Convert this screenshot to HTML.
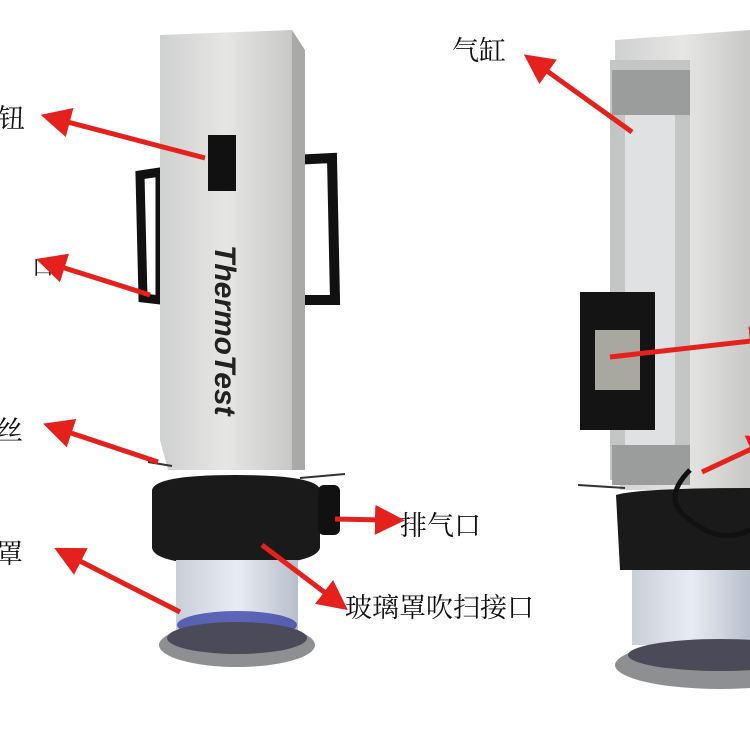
<!DOCTYPE html>
<html><head><meta charset="utf-8"><style>
html,body{margin:0;padding:0;background:#fff;}
svg{display:block}
text{font-family:"Liberation Serif","Noto Serif CJK SC","Noto Sans CJK SC",serif;font-size:27px;fill:#111}
</style></head><body>
<svg width="750" height="750" viewBox="0 0 750 750" xmlns="http://www.w3.org/2000/svg">
<defs>
<marker id="ah" markerWidth="6" markerHeight="6" refX="2" refY="3" orient="auto" markerUnits="strokeWidth">
<path d="M0,0 L6,3 L0,6 z" fill="#e5211e"/></marker>
<linearGradient id="body" x1="0" x2="1"><stop offset="0" stop-color="#cfd0d0"/><stop offset="0.5" stop-color="#e6e6e4"/><stop offset="1" stop-color="#c8c8c6"/></linearGradient>
<linearGradient id="glass" x1="0" x2="1"><stop offset="0" stop-color="#c9cfd8"/><stop offset="0.5" stop-color="#e8ecf2"/><stop offset="1" stop-color="#b8bfcc"/></linearGradient>
</defs>
<rect width="750" height="750" fill="#fff"/>
<!-- LEFT DEVICE -->
<path d="M140,175 L160,172 L160,300 L143,298 Z" fill="none" stroke="#111" stroke-width="9"/>
<path d="M292,160 L332,158 L335,300 L292,300" fill="none" stroke="#111" stroke-width="10"/>
<polygon points="292,30 305,50 305,470 292,470" fill="#a9aaa8"/>
<polygon points="160,35 292,30 292,470 168,470 160,440" fill="url(#body)"/>
<rect x="208" y="135" width="28" height="56" fill="#111"/>
<text x="215" y="245" transform="rotate(90 215 245)" style="font-family:'Liberation Sans',sans-serif;font-weight:bold;font-style:italic;font-size:30px;fill:#222">ThermoTest</text>
<line x1="148" y1="462" x2="172" y2="466" stroke="#333" stroke-width="2"/>
<line x1="300" y1="478" x2="345" y2="474" stroke="#333" stroke-width="2"/>
<path d="M152,490 Q155,475 235,475 Q318,475 320,490 L320,548 Q315,565 235,565 Q155,565 152,548 Z" fill="#1a1a1a"/>
<rect x="318" y="485" width="22" height="50" rx="6" fill="#111"/>
<rect x="176" y="560" width="122" height="75" fill="url(#glass)"/>
<ellipse cx="237" cy="625" rx="60" ry="14" fill="#3a44a8" opacity="0.8"/>
<ellipse cx="237" cy="645" rx="78" ry="22" fill="#8e8f90"/>
<ellipse cx="237" cy="638" rx="70" ry="16" fill="#4a4a58"/>
<!-- RIGHT DEVICE -->
<polygon points="615,40 750,30 750,490 620,490" fill="url(#body)"/>
<rect x="610" y="60" width="80" height="420" fill="#c4c6c6"/>
<rect x="625" y="75" width="50" height="395" fill="#dfe1e3"/>
<rect x="612" y="70" width="78" height="45" fill="#9b9c9c"/>
<rect x="612" y="445" width="78" height="40" fill="#9b9c9c"/>
<rect x="580" y="292" width="75" height="138" fill="#141414"/>
<rect x="595" y="330" width="45" height="60" fill="#a8a8a0"/>
<line x1="578" y1="485" x2="625" y2="488" stroke="#333" stroke-width="2"/>
<path d="M616,495 Q640,488 750,488 L750,570 L620,570 Z" fill="#1a1a1a"/>
<path d="M690,470 Q660,500 690,520 Q720,545 750,530" fill="none" stroke="#111" stroke-width="5"/>
<rect x="632" y="570" width="118" height="75" fill="url(#glass)"/>
<ellipse cx="720" cy="665" rx="105" ry="24" fill="#8e8f90"/>
<ellipse cx="720" cy="655" rx="92" ry="16" fill="#4a4a58"/>
<!-- LABELS -->
<text x="-2" y="128">钮</text>
<text x="32" y="275" style="font-size:22px">口</text>
<text x="-4" y="440">丝</text>
<text x="-4" y="563">罩</text>
<text x="400" y="535">排气口</text>
<text x="345" y="617">玻璃罩吹扫接口</text>
<text x="452" y="60">气缸</text>
<!-- ARROWS -->
<g stroke="#e5211e" stroke-width="5" fill="none" marker-end="url(#ah)">
<line x1="205" y1="158" x2="60" y2="120"/>
<line x1="150" y1="295" x2="55" y2="265"/>
<line x1="158" y1="462" x2="62" y2="430"/>
<line x1="180" y1="612" x2="72" y2="557"/>
<line x1="335" y1="519" x2="385" y2="520"/>
<line x1="262" y1="545" x2="332" y2="598"/>
<line x1="632" y1="132" x2="540" y2="66"/>
<line x1="610" y1="357" x2="760" y2="340"/>
<line x1="702" y1="472" x2="760" y2="445"/>
</g>
</svg>
</body></html>
